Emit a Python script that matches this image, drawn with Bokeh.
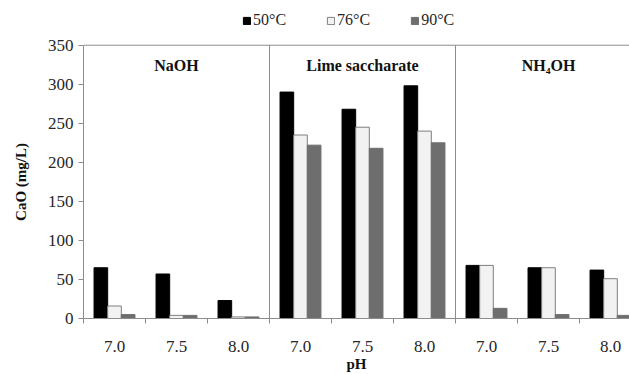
import numpy as np
from bokeh.plotting import figure
from bokeh.models import (ColumnDataSource, FixedTicker, Span, Legend, LegendItem, Range1d)
from bokeh.core.properties import value
from bokeh.embed import file_html
from bokeh.resources import INLINE

# ---- data ----
panels = ["NaOH", "Lime saccharate", "NH\u2084OH"]
ph_labels = ["7.0", "7.5", "8.0"]
series_names = ["50\u00b0C", "76\u00b0C", "90\u00b0C"]
s50 = [65, 57, 23, 290, 268, 298, 68, 65, 62]
s76 = [16, 4, 2, 235, 245, 240, 68, 65, 51]
s90 = [5, 4, 2, 222, 218, 225, 13, 5, 4]
y_ticks = [0, 50, 100, 150, 200, 250, 300, 350]
y_max = 350
y_title = "CaO (mg/L)"
x_title = "pH"

FONT = "Liberation Serif"
AX = "#8c8c8c"
TXT = "#262626"

n_groups = len(panels) * len(ph_labels)
centers = np.arange(n_groups) + 0.5
bw = 0.22
offsets = [-bw, 0.0, bw]
fills = ["#000000", "#f2f2f2", "#6e6e6e"]
lines = ["#000000", "#7f7f7f", "#6e6e6e"]

p = figure(width=629, height=374, output_backend="svg", toolbar_location=None,
           x_range=Range1d(0, 546 / 62), y_range=Range1d(0, y_max * 320 / 275),
           min_border_left=83, min_border_right=0, min_border_top=0,
           min_border_bottom=54)
p.outline_line_color = None
p.grid.grid_line_color = None
p.background_fill_color = "white"

renderers = []
for vals, off, fc, lc in zip([s50, s76, s90], offsets, fills, lines):
    src = ColumnDataSource(dict(x=centers + off, top=vals))
    r = p.vbar(x="x", top="top", width=bw, bottom=0, source=src,
               fill_color=fc, line_color=lc, line_width=1)
    renderers.append(r)

# panel separators and top border
bounds = [3, 6]
p.segment(x0=bounds, y0=[0, 0], x1=bounds, y1=[y_max, y_max], line_color=AX, line_width=1)
p.add_layout(Span(location=y_max, dimension="width", line_color=AX, line_width=1))

# panel titles
tsrc = ColumnDataSource(dict(x=[1.5, 4.5, 7.5], y=[324, 324, 324], t=panels))
p.text(x="x", y="y", text="t", source=tsrc, text_align="center",
       text_baseline="middle", text_font=value(FONT), text_font_style="bold",
       text_font_size="16px", text_color="#111111")

# x axis
xa = p.xaxis[0]
xa.ticker = FixedTicker(ticks=list(centers), minor_ticks=list(np.arange(n_groups + 1)))
xa.major_label_overrides = {float(c): ph_labels[i % 3] for i, c in enumerate(centers)}
xa.major_tick_line_color = None
xa.major_tick_out = 0
xa.major_tick_in = 0
xa.minor_tick_out = 5
xa.minor_tick_in = 0
xa.minor_tick_line_color = AX
xa.axis_line_color = AX
xa.major_label_standoff = 17
xa.major_label_text_font = FONT
xa.major_label_text_font_size = "17px"
xa.major_label_text_color = TXT
xa.axis_label = x_title
xa.axis_label_text_font = FONT
xa.axis_label_text_font_style = "bold"
xa.axis_label_text_font_size = "15px"
xa.axis_label_text_color = "#111111"
xa.axis_label_standoff = 1

# y axis (label padded with trailing no-break spaces so it centres on the 0-350 rule)
ya = p.yaxis[0]
ya.ticker = FixedTicker(ticks=y_ticks)
ya.bounds = (0, y_max)
ya.major_tick_out = 5
ya.major_tick_in = 0
ya.minor_tick_line_color = None
ya.major_tick_line_color = AX
ya.axis_line_color = AX
ya.major_label_standoff = 5
ya.major_label_text_font = FONT
ya.major_label_text_font_size = "17px"
ya.major_label_text_color = TXT
ya.axis_label = y_title + "\u00a0" * 12
ya.axis_label_text_font = FONT
ya.axis_label_text_font_style = "bold"
ya.axis_label_text_font_size = "15px"
ya.axis_label_text_color = "#111111"
ya.axis_label_standoff = 16

# legend (inside the tall frame, above the y=350 line)
legend = Legend(items=[LegendItem(label=n, renderers=[r]) for n, r in zip(series_names, renderers)],
                orientation="horizontal", location=(159, 289),
                glyph_width=9, glyph_height=9, label_standoff=2, spacing=40,
                label_text_font=FONT, label_text_font_size="16px", label_text_color=TXT,
                border_line_color=None, background_fill_alpha=0,
                padding=0, margin=0, label_height=16)
p.add_layout(legend, "center")

open("out.html", "w").write(file_html(p, INLINE))
